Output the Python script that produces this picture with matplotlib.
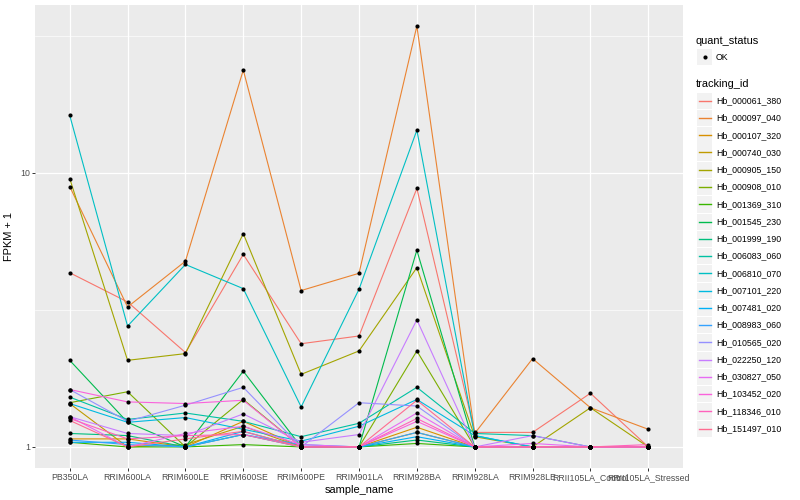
import numpy as np
import matplotlib
matplotlib.use('Agg')
import matplotlib.pyplot as plt
from matplotlib.patches import Rectangle

plt.rcParams['font.family'] = ['Liberation Sans', 'DejaVu Sans']

samples = ['PB350LA', 'RRIM600LA', 'RRIM600LE', 'RRIM600SE', 'RRIM600PE',
           'RRIM901LA', 'RRIM928BA', 'RRIM928LA', 'RRIM928LE',
           'RRII105LA_Control', 'RRII105LA_Stressed']

tracking_ids = ['Hb_000061_380', 'Hb_000097_040', 'Hb_000107_320', 'Hb_000740_030',
                'Hb_000905_150', 'Hb_000908_010', 'Hb_001369_310', 'Hb_001545_230',
                'Hb_001999_190', 'Hb_006083_060', 'Hb_006810_070', 'Hb_007101_220',
                'Hb_007481_020', 'Hb_008983_060', 'Hb_010565_020', 'Hb_022250_120',
                'Hb_030827_050', 'Hb_103452_020', 'Hb_118346_010', 'Hb_151497_010']

# ggplot hue palette, 20 levels
colors = ['#F8766D', '#EA8331', '#D89000', '#C09B00', '#A3A500', '#7CAE00',
          '#39B600', '#00BB4E', '#00BF7D', '#00C1A3', '#00BFC4', '#00BAE0',
          '#00B0F6', '#35A2FF', '#9590FF', '#C77CFF', '#E76BF3', '#FA62DB',
          '#FF62BC', '#FF6C91']

# FPKM + 1, one row per tracking_id, one column per sample
fpkm = [
    [4.32, 3.38, 2.21, 5.04, 2.38, 2.54, 8.77, 1.13, 1.13, 1.57, 1.00],
    [8.91, 3.24, 4.76, 23.7, 3.72, 4.30, 34.3, 1.12, 2.10, 1.39, 1.16],
    [1.07, 1.07, 1.00, 1.24, 1.00, 1.00, 1.18, 1.00, 1.00, 1.00, 1.00],
    [1.44, 1.00, 1.02, 1.19, 1.00, 1.00, 1.13, 1.00, 1.00, 1.00, 1.00],
    [9.53, 2.07, 2.19, 6.00, 1.84, 2.24, 4.51, 1.09, 1.00, 1.39, 1.00],
    [1.45, 1.59, 1.00, 1.49, 1.00, 1.00, 2.24, 1.00, 1.00, 1.00, 1.00],
    [1.04, 1.00, 1.00, 1.02, 1.00, 1.00, 1.03, 1.00, 1.00, 1.00, 1.00],
    [2.07, 1.23, 1.00, 1.89, 1.00, 1.00, 5.22, 1.00, 1.00, 1.00, 1.00],
    [1.12, 1.10, 1.00, 1.11, 1.00, 1.00, 1.06, 1.00, 1.00, 1.00, 1.00],
    [1.52, 1.26, 1.33, 1.24, 1.09, 1.22, 1.65, 1.12, 1.10, 1.00, 1.00],
    [16.2, 2.76, 4.63, 3.78, 1.40, 3.76, 14.3, 1.10, 1.00, 1.00, 1.00],
    [1.44, 1.23, 1.28, 1.16, 1.05, 1.19, 1.49, 1.10, 1.00, 1.00, 1.00],
    [1.04, 1.04, 1.00, 1.14, 1.00, 1.00, 1.09, 1.00, 1.00, 1.00, 1.00],
    [1.06, 1.02, 1.00, 1.11, 1.02, 1.00, 1.13, 1.00, 1.00, 1.00, 1.00],
    [1.62, 1.24, 1.42, 1.65, 1.00, 1.45, 1.41, 1.00, 1.00, 1.00, 1.00],
    [1.29, 1.12, 1.10, 1.32, 1.04, 1.11, 2.91, 1.00, 1.10, 1.00, 1.00],
    [1.29, 1.00, 1.12, 1.19, 1.02, 1.00, 1.33, 1.00, 1.03, 1.00, 1.00],
    [1.62, 1.46, 1.44, 1.48, 1.00, 1.00, 1.24, 1.00, 1.00, 1.00, 1.00],
    [1.27, 1.07, 1.10, 1.11, 1.00, 1.00, 1.27, 1.00, 1.00, 1.00, 1.02],
    [1.25, 1.00, 1.07, 1.14, 1.00, 1.00, 1.48, 1.00, 1.00, 1.00, 1.00],
]

fig = plt.figure(figsize=(8, 5), dpi=100)
ax = fig.add_axes([35/800, 32/500, 648/800, 463/500])
ax.set_facecolor('#EBEBEB')
for s in ax.spines.values():
    s.set_visible(False)

x = np.arange(len(samples))
for vals, col in zip(fpkm, colors):
    ax.plot(x, vals, color=col, lw=0.8, zorder=2)
for vals in fpkm:
    ax.plot(x, vals, 'o', color='black', ms=3, mew=0, zorder=3)

ax.set_yscale('log')
allv = np.log10(np.array(fpkm))
lo, hi = allv.min(), allv.max()
pad = 0.05 * (hi - lo)
ax.set_ylim(10**(lo - pad), 10**(hi + pad))
ax.set_xlim(-0.6, len(samples) - 0.4)

ax.set_yticks([1, 10])
ax.set_yticklabels(['1', '10'])
ax.set_yticks([10**0.5, 10**1.5], minor=True)
ax.yaxis.set_minor_formatter(matplotlib.ticker.NullFormatter())
ax.set_xticks(x)
ax.set_xticklabels(samples)

ax.grid(which='major', color='white', lw=0.9, zorder=0)
ax.grid(which='minor', axis='y', color='white', lw=0.45, zorder=0)
ax.set_axisbelow(True)
ax.tick_params(which='major', length=2.2, width=0.7, color='#333333',
               labelsize=6.3, labelcolor='#4D4D4D', pad=1.5)
ax.tick_params(which='minor', length=0)

ax.set_xlabel('sample_name', fontsize=7.9, labelpad=2)
ax.set_ylabel('FPKM + 1', fontsize=7.9, labelpad=4)

# legends, drawn in figure pixel coordinates
lg = fig.add_axes([0, 0, 1, 1])
lg.set_xlim(0, 800)
lg.set_ylim(500, 0)
lg.axis('off')

lg.text(696, 41, 'quant_status', fontsize=7.9, va='center', ha='left')
lg.add_patch(Rectangle((697, 49), 15, 16, color='#F2F2F2', lw=0))
lg.plot([705], [57.3], 'o', color='black', ms=3, mew=0)
lg.text(716, 57.3, 'OK', fontsize=6.3, va='center', ha='left')

lg.text(696, 84, 'tracking_id', fontsize=7.9, va='center', ha='left')
y0, dy = 100.7, 17.26
for i, (tid, col) in enumerate(zip(tracking_ids, colors)):
    yc = y0 + i * dy
    lg.add_patch(Rectangle((697, yc - 8), 15, 16.3, color='#F2F2F2', lw=0, zorder=1))
    lg.plot([698.5, 711], [yc, yc], color=col, lw=1.0, zorder=2)
    lg.text(716.5, yc, tid, fontsize=6.3, va='center', ha='left')

fig.savefig('out.png', dpi=100)
